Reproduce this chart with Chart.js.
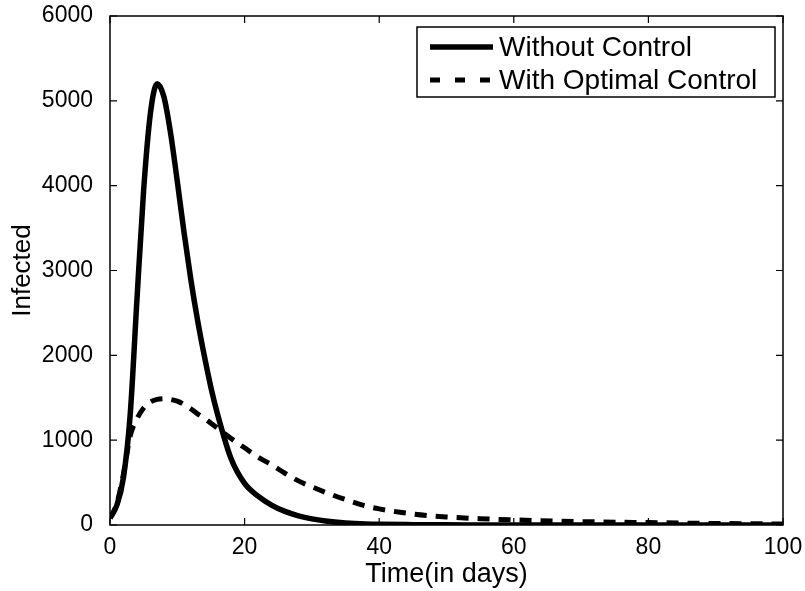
<!DOCTYPE html>
<html>
<head>
<meta charset="utf-8">
<script src="https://cdn.jsdelivr.net/npm/chart.js@4/dist/chart.umd.min.js"></script>
<style>
  html, body { margin: 0; padding: 0; background: #fff; }
  #wrap { width: 805px; height: 591px; }
</style>
</head>
<body>
<div id="wrap"><canvas id="infectedChart" width="805" height="591"></canvas></div>
<script>
const days = [0, 1, 2, 3, 4, 5, 6, 7, 8, 9, 10, 11, 12, 13, 14, 15, 16, 18, 20, 22, 24, 26, 28, 30, 32, 35, 38, 40, 45, 50, 55, 60, 70, 80, 90, 100];
const withoutControl = [80, 230, 560, 1300, 2650, 3950, 4850, 5200, 5050, 4620, 4050, 3450, 2900, 2420, 2000, 1620, 1300, 780, 490, 340, 235, 160, 108, 72, 48, 25, 12, 8, 4, 2, 1, 0, 0, 0, 0, 0];
const withControl = [80, 250, 600, 1050, 1250, 1380, 1450, 1480, 1490, 1480, 1460, 1420, 1370, 1310, 1260, 1200, 1140, 1020, 910, 800, 710, 610, 520, 450, 385, 300, 225, 190, 130, 95, 75, 60, 40, 28, 18, 12];
const seriesLabels = ['Without Control', 'With Optimal Control'];
const xTicks = [0, 20, 40, 60, 80, 100];
const yTicks = [0, 1000, 2000, 3000, 4000, 5000, 6000];

const FONT = '"Liberation Sans", Arial, sans-serif';

const toPoints = (vals) => days.map((d, i) => ({ x: d, y: vals[i] }));

// matlab style box, inward ticks and legend
const boxPlugin = {
  id: 'matlabBox',
  afterDatasetsDraw(chart) {
    const { ctx, chartArea: a, scales } = chart;
    ctx.save();
    ctx.strokeStyle = '#000';
    ctx.lineWidth = 1.5;
    ctx.strokeRect(a.left, a.top, a.right - a.left, a.bottom - a.top);
    ctx.lineWidth = 1.2;
    const len = 7;
    xTicks.forEach(v => {
      const px = scales.x.getPixelForValue(v);
      ctx.beginPath();
      ctx.moveTo(px, a.bottom); ctx.lineTo(px, a.bottom - len);
      ctx.moveTo(px, a.top); ctx.lineTo(px, a.top + len);
      ctx.stroke();
    });
    yTicks.forEach(v => {
      const py = scales.y.getPixelForValue(v);
      ctx.beginPath();
      ctx.moveTo(a.left, py); ctx.lineTo(a.left + len, py);
      ctx.moveTo(a.right, py); ctx.lineTo(a.right - len, py);
      ctx.stroke();
    });

    // legend
    const lx = 417, ly = 27, lw = 358, lh = 70;
    ctx.fillStyle = '#fff';
    ctx.fillRect(lx, ly, lw, lh);
    ctx.lineWidth = 1.5;
    ctx.strokeRect(lx, ly, lw, lh);
    ctx.font = '28px ' + FONT;
    ctx.textBaseline = 'middle';
    ctx.fillStyle = '#000';
    chart.data.datasets.forEach((ds, i) => {
      const y = ly + 20 + i * 33;
      ctx.beginPath();
      ctx.lineWidth = ds.borderWidth;
      ctx.setLineDash(ds.borderDash ? [10, 15] : []);
      ctx.moveTo(lx + 13, y); ctx.lineTo(lx + 76, y);
      ctx.stroke();
      ctx.setLineDash([]);
      ctx.fillText(ds.label, lx + 82, y + 1);
    });
    ctx.restore();
  }
};

new Chart(document.getElementById('infectedChart'), {
  type: 'line',
  data: {
    datasets: [
      {
        label: seriesLabels[0],
        data: toPoints(withoutControl),
        borderColor: '#000',
        borderWidth: 5.5,
        pointRadius: 0,
        cubicInterpolationMode: 'monotone',
        fill: false
      },
      {
        label: seriesLabels[1],
        data: toPoints(withControl),
        borderColor: '#000',
        borderWidth: 5,
        borderDash: [12, 9],
        pointRadius: 0,
        cubicInterpolationMode: 'monotone',
        fill: false
      }
    ]
  },
  options: {
    responsive: false,
    animation: false,
    layout: { padding: { left: 0, right: 22, top: 16, bottom: 0 } },
    plugins: { legend: { display: false }, tooltip: { enabled: false } },
    scales: {
      x: {
        type: 'linear',
        min: 0,
        max: 100,
        grid: { display: false },
        border: { display: false },
        afterBuildTicks: (s) => { s.ticks = xTicks.map(v => ({ value: v })); },
        afterFit: (s) => { s.height = 66; s.paddingLeft = 0; s.paddingRight = 0; },
        ticks: { color: '#000', font: { family: FONT, size: 23 }, padding: 1, maxRotation: 0 },
        title: { display: true, text: 'Time(in days)', color: '#000', font: { family: FONT, size: 27 }, padding: { top: 0, bottom: 0 } }
      },
      y: {
        min: 0,
        max: 6000,
        grid: { display: false },
        border: { display: false },
        afterBuildTicks: (s) => { s.ticks = yTicks.map(v => ({ value: v })); },
        afterFit: (s) => { s.width = 110; s.paddingTop = 0; s.paddingBottom = 0; },
        ticks: { color: '#000', font: { family: FONT, size: 23 }, padding: 9, callback: (v) => String(v) },
        title: { display: true, text: 'Infected', color: '#000', font: { family: FONT, size: 26 }, padding: { top: 7, bottom: 0 } }
      }
    }
  },
  plugins: [boxPlugin]
});
</script>
</body>
</html>
